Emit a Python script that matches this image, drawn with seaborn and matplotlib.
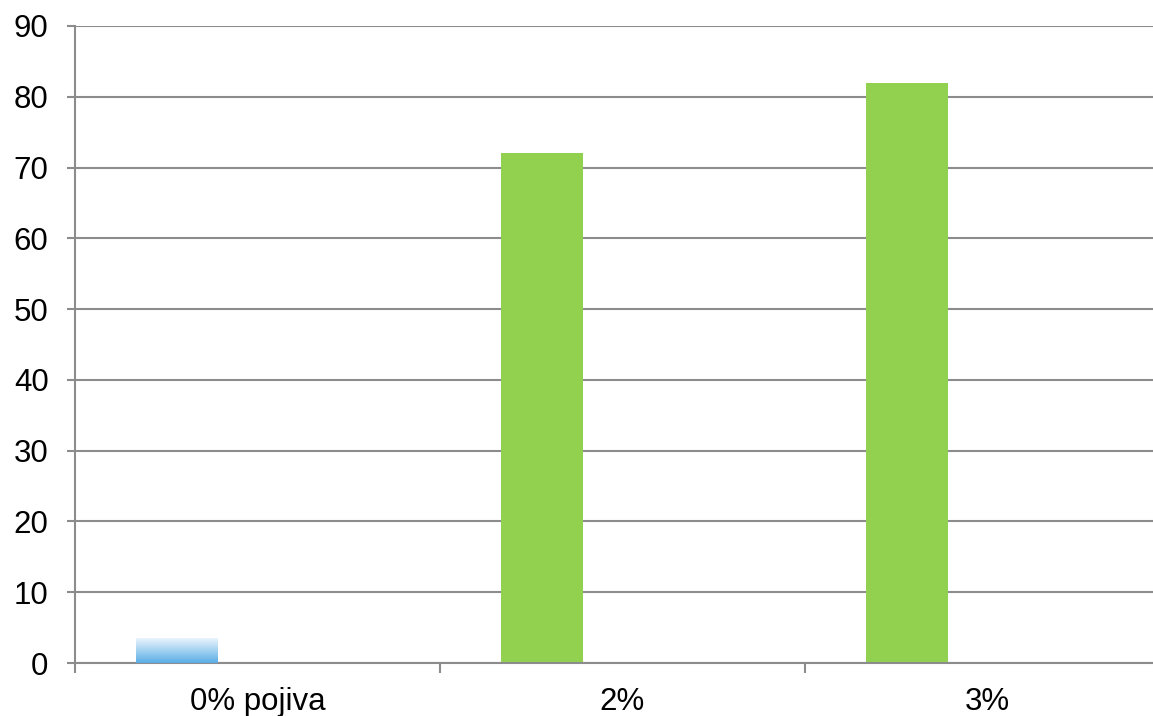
import numpy as np
import pandas as pd
import matplotlib
matplotlib.use("Agg")
import matplotlib.pyplot as plt
import seaborn as sns
from matplotlib.colors import LinearSegmentedColormap

categories = ["0% pojiva", "2%", "3%"]
series_a = [3.5, 72, 82]
series_b = [0, 0, 0]
series_names = ["Niz 1", "Niz 2"]

df = pd.DataFrame({
    "kategorija": categories * 2,
    "vrijednost": series_a + series_b,
    "niz": [series_names[0]] * 3 + [series_names[1]] * 3,
})

sns.set_style("white")
plt.rcParams["font.family"] = ["Liberation Sans", "DejaVu Sans"]
plt.rcParams["text.color"] = "black"
plt.rcParams["xtick.color"] = "black"
plt.rcParams["ytick.color"] = "black"

fig = plt.figure(figsize=(11.53, 7.16), dpi=100)
# plot area runs past the right edge of the picture, like the reference
ax = fig.add_axes([0.065, 0.074, 0.9497, 0.8897])

green = "#92d050"
sns.barplot(
    data=df, x="kategorija", y="vrijednost", hue="niz",
    palette=[green, "white"], width=0.88, gap=0.49,
    legend=False, ax=ax, linewidth=0, saturation=1,
)

# blue gradient for the first bar
first = ax.patches[0]
first.set_facecolor("none")
x0, y0 = first.get_x(), first.get_y()
w, h = first.get_width(), first.get_height()
cmap = LinearSegmentedColormap.from_list("grad", ["#5aaee6", "#eaf4fc"])
grad = np.linspace(0, 1, 100).reshape(-1, 1)
img = ax.imshow(grad, cmap=cmap, aspect="auto", origin="lower",
                extent=[x0, x0 + w, y0, y0 + h], zorder=3)
img.set_clip_path(first)

ax.set_xlim(-0.5, 2.5)
ax.set_ylim(0, 90)
ax.set_yticks(range(0, 91, 10))
ax.set_xlabel("")
ax.set_ylabel("")

ax.yaxis.grid(True, color="#8c8c8c", linewidth=1.5)
ax.set_axisbelow(True)
for bar in ax.patches:
    bar.set_zorder(2)

for side in ["top", "right"]:
    ax.spines[side].set_visible(False)
for side in ["left", "bottom"]:
    ax.spines[side].set_color("#8c8c8c")
    ax.spines[side].set_linewidth(1.5)

ax.set_xticks([-0.5, 0.5, 1.5, 2.5], minor=True)
ax.tick_params(axis="x", which="minor", length=7, width=1.5, color="#8c8c8c",
               direction="out", bottom=True)
ax.tick_params(axis="x", which="major", length=0, pad=17, labelsize=22.5,
               labelcolor="black")
ax.tick_params(axis="y", length=6, width=1.5, color="#8c8c8c", direction="out",
               left=True, pad=13, labelsize=22.5, labelcolor="black")

fig.savefig("out.png", dpi=100)
